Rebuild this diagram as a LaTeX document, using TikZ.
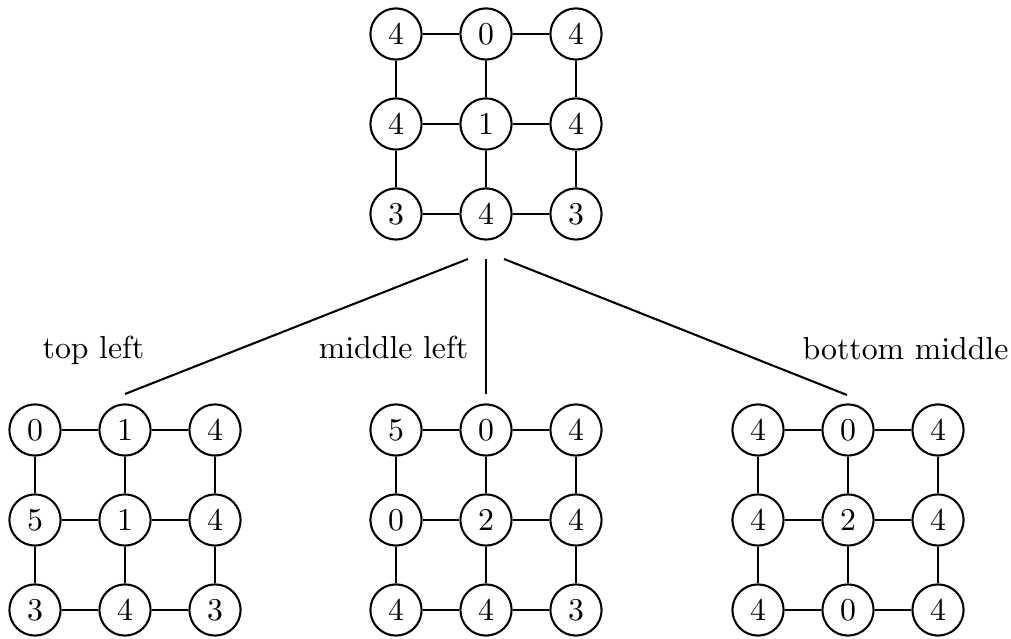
\documentclass[tikz,border=0pt]{standalone}
\usetikzlibrary{calc}
\tikzset{
  cell/.style={draw, circle, line width=0.65pt, minimum size=16.1pt, inner sep=0.5pt},
  link/.style={line width=0.65pt},
  treeedge/.style={line width=0.65pt},
  lbl/.style={anchor=base, inner sep=0pt}
}
\newcommand\mygrid[4]{%
  \foreach \v [count=\i from 0] in {#4} {
    \pgfmathtruncatemacro\rr{div(\i,3)}
    \pgfmathtruncatemacro\cc{mod(\i,3)}
    \node[cell] (#1-\rr-\cc) at ({#2+(\cc-1)*90},{#3+(\rr-1)*90}) {\v};
  }
  \foreach \k in {0,1,2} {
    \draw[link] (#1-\k-0) -- (#1-\k-1) -- (#1-\k-2);
    \draw[link] (#1-0-\k) -- (#1-1-\k) -- (#1-2-\k);
  }
}
\begin{document}
\begin{tikzpicture}[x=0.31447pt, y=-0.31447pt]
\useasboundingbox (0,0) rectangle (1011,639);
\mygrid{T}{486}{124}{4,0,4,4,1,4,3,4,3}
\mygrid{L}{125}{520}{0,1,4,5,1,4,3,4,3}
\mygrid{M}{486}{520}{5,0,4,0,2,4,4,4,3}
\mygrid{R}{848}{520}{4,0,4,4,2,4,4,0,4}
\coordinate (s1) at (468,259);
\coordinate (s2) at (486,259);
\coordinate (s3) at (504,259);
\coordinate (e1) at (125,394);
\coordinate (e2) at (486,394);
\coordinate (e3) at (847,395);
\draw[treeedge] (s1) -- (e1);
\draw[treeedge] (s2) -- (e2);
\draw[treeedge] (s3) -- (e3);
\node[lbl] (lab1) at (93.5,359) {top left};
\node[lbl] (lab2) at (393.5,359) {middle left};
\node[lbl] (lab3) at (905.5,360) {bottom middle};
\end{tikzpicture}
\end{document}
